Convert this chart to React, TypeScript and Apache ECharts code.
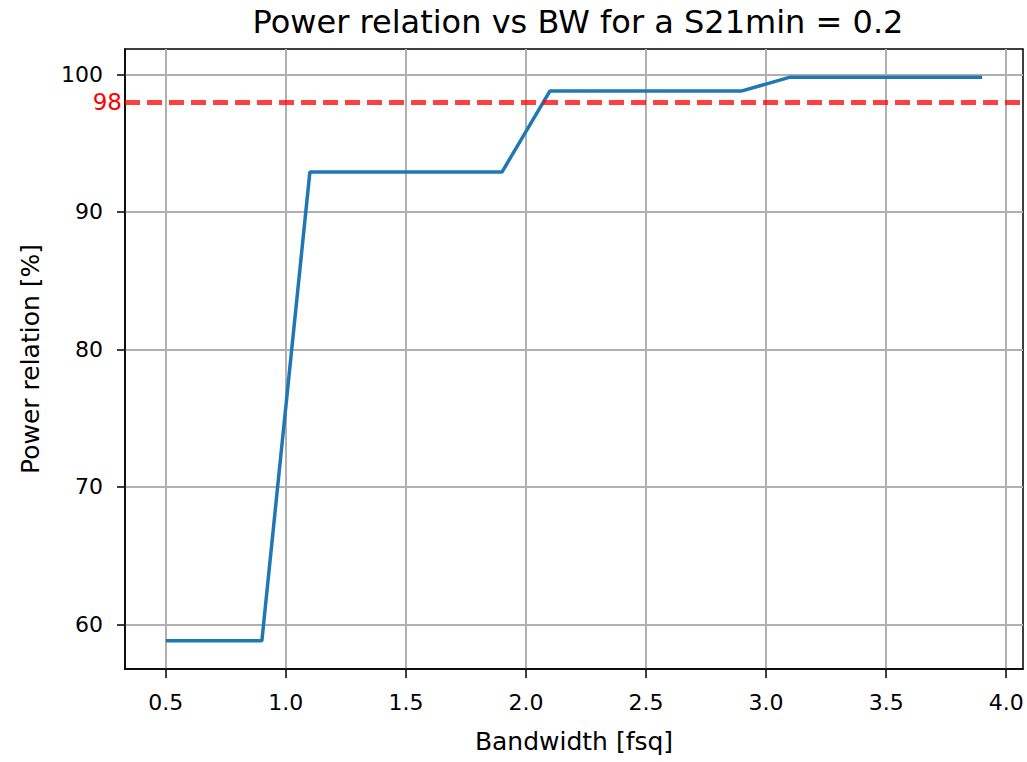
import React, { useEffect, useRef } from "react";
import * as echarts from "echarts";

const bandwidth = [0.5, 0.7, 0.9, 1.1, 1.3, 1.5, 1.7, 1.9, 2.1, 2.3, 2.5, 2.7, 2.9, 3.1, 3.3, 3.5, 3.7, 3.9];
const powerRelation = [58.8, 58.8, 58.8, 92.9, 92.9, 92.9, 92.9, 92.9, 98.8, 98.8, 98.8, 98.8, 98.8, 99.8, 99.8, 99.8, 99.8, 99.8];
const thresholdValue = 98;
const xTicks = [0.5, 1.0, 1.5, 2.0, 2.5, 3.0, 3.5, 4.0];
const yTicks = [60, 70, 80, 90, 100];

const FONT = "DejaVu Sans";

export default function App() {
  const ref = useRef<HTMLDivElement>(null);
  useEffect(() => {
    document.body.style.margin = "0";
    const chart = echarts.init(ref.current!, null, { renderer: "svg" });
    chart.setOption({
      animation: false,
      backgroundColor: "#ffffff",
      title: {
        text: "Power relation vs BW for a S21min = 0.2",
        left: 573,
        textAlign: "center",
        top: 1,
        textStyle: { fontFamily: FONT, fontSize: 32, fontWeight: "normal", color: "#000" },
      },
      grid: {
        left: 125,
        right: 4,
        top: 49,
        bottom: 93,
        show: true,
        borderColor: "#000",
        borderWidth: 1.5,
        backgroundColor: "transparent",
      },
      xAxis: {
        type: "value",
        min: 0.33,
        max: 4.07,
        name: "Bandwidth [fsq]",
        nameLocation: "middle",
        nameGap: 60,
        nameTextStyle: { fontFamily: FONT, fontSize: 25, color: "#000" },
        axisLine: { show: true, onZero: false, lineStyle: { color: "#000", width: 1.5 } },
        axisTick: { show: true, customValues: xTicks, length: 9, lineStyle: { color: "#000", width: 1.5 } },
        axisLabel: {
          customValues: xTicks,
          margin: 22,
          fontFamily: FONT,
          fontSize: 22,
          color: "#000",
          formatter: (v: number) => v.toFixed(1),
        },
        splitLine: { show: true, customValues: xTicks, lineStyle: { color: "#b0b0b0", width: 2 } },
      },
      yAxis: {
        type: "value",
        min: 56.75,
        max: 101.85,
        name: "Power relation [%]",
        nameLocation: "middle",
        nameGap: 82,
        nameTextStyle: { fontFamily: FONT, fontSize: 25, color: "#000" },
        axisLine: { show: true, onZero: false, lineStyle: { color: "#000", width: 1.5 } },
        axisTick: { show: true, customValues: yTicks, length: 8, lineStyle: { color: "#000", width: 1.5 } },
        axisLabel: {
          customValues: yTicks,
          margin: 22,
          fontFamily: FONT,
          fontSize: 22,
          color: "#000",
          formatter: (v: number) => String(Math.round(v)),
        },
        splitLine: { show: true, customValues: yTicks, lineStyle: { color: "#b0b0b0", width: 2 } },
      },
      series: [
        {
          type: "line",
          data: bandwidth.map((x, i) => [x, powerRelation[i]]),
          showSymbol: false,
          symbol: "none",
          lineStyle: { color: "#1f77b4", width: 3.5 },
          itemStyle: { color: "#1f77b4" },
          z: 3,
          markLine: {
            silent: true,
            symbol: ["none", "none"],
            data: [{ yAxis: thresholdValue }],
            lineStyle: { color: "rgba(255,0,0,0.75)", width: 5, type: [15, 7] },
            label: {
              show: true,
              position: "start",
              distance: 3,
              formatter: String(thresholdValue),
              color: "#ff0000",
              fontFamily: FONT,
              fontSize: 23,
            },
            z: 4,
          },
        },
      ],
    });
    return () => chart.dispose();
  }, []);
  return <div ref={ref} style={{ width: 1027, height: 762 }} />;
}
